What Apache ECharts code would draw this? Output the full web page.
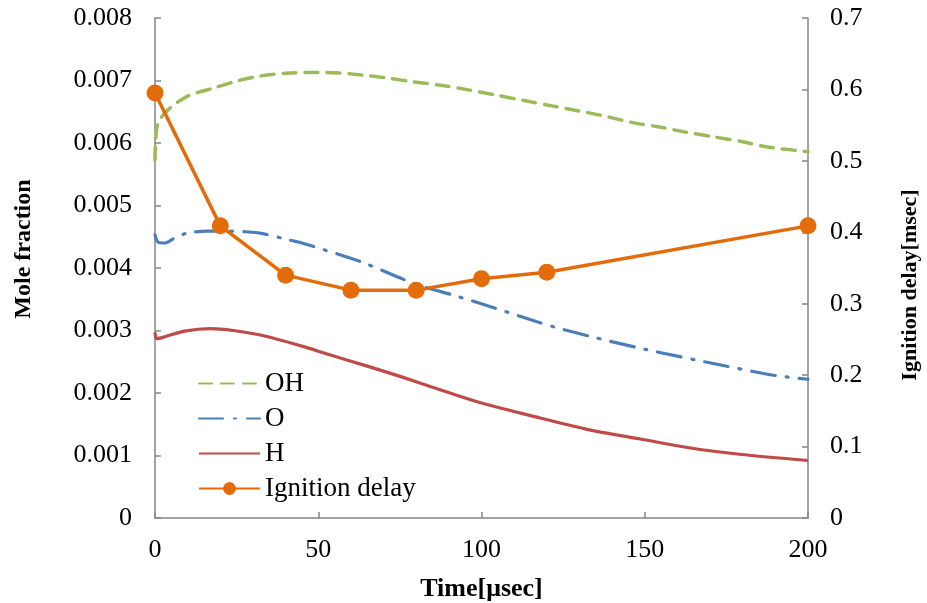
<!DOCTYPE html>
<html>
<head>
<meta charset="utf-8">
<script src="https://cdn.jsdelivr.net/npm/echarts@6/dist/echarts.min.js"></script>
<style>
  html, body { margin: 0; padding: 0; background: #fff; }
  #chart { width: 927px; height: 603px; }
</style>
</head>
<body>
<div id="chart"></div>
<script>
// Species mole fractions over time (x in μsec)
const ohTime = [0, 0.8, 4, 10, 18, 25, 32, 41, 52, 63, 71, 79, 88, 96, 104, 113, 122, 136, 146, 154, 162, 171, 180, 187, 200];
const ohValues = [0.00573, 0.0063, 0.00653, 0.00675, 0.00688, 0.00699, 0.00707, 0.00712, 0.00713, 0.00709, 0.00704, 0.00698, 0.00692, 0.00685, 0.00677, 0.00668, 0.00659, 0.00645, 0.00633, 0.00626, 0.00618, 0.0061, 0.00602, 0.00594, 0.00586];

const oTime = [0, 1, 3, 6, 10, 16, 22, 28, 33, 41, 45, 63, 79, 93, 104, 117, 122, 133, 150, 174, 190, 200];
const oValues = [0.00453, 0.00441, 0.0044, 0.00448, 0.00456, 0.00459, 0.00459, 0.00458, 0.00455, 0.00445, 0.0044, 0.0041, 0.00376, 0.00354, 0.00336, 0.00314, 0.00306, 0.00291, 0.0027, 0.00244, 0.00228, 0.00222];

const hTime = [0, 0.5, 3, 9, 17, 24, 33, 45, 53, 65, 76, 88, 100, 118, 133, 149, 164, 179, 200];
const hValues = [0.00297, 0.00287, 0.0029, 0.00299, 0.00303, 0.003, 0.00292, 0.00275, 0.00262, 0.00243, 0.00225, 0.00204, 0.00184, 0.0016, 0.00141, 0.00126, 0.00112, 0.00102, 0.00092];

// Ignition delay (msec) on the right axis
const delayTime = [0, 20, 40, 60, 80, 100, 120, 200];
const delayValues = [0.595, 0.409, 0.340, 0.319, 0.319, 0.335, 0.344, 0.409];

const seriesNames = ['OH', 'O', 'H', 'Ignition delay'];

const pair = (xs, ys) => xs.map((x, i) => [x, ys[i]]);

const FONT = '"Liberation Serif", "Times New Roman", serif';
const AXIS_GRAY = '#868686';

const chart = echarts.init(document.getElementById('chart'), null, { renderer: 'canvas' });

const axisLine = { show: true, lineStyle: { color: AXIS_GRAY, width: 1.5 } };
const axisTick = { show: true, inside: true, length: 6, lineStyle: { color: AXIS_GRAY, width: 1.5 } };
const titleStyle = (size, padding) => ({ fontFamily: FONT, fontSize: size, fontWeight: 'bold', color: '#000', padding });

chart.setOption({
  animation: false,
  backgroundColor: '#fff',
  grid: { left: 155, right: 119, top: 18, bottom: 85, containLabel: false, outerBoundsMode: 'none' },
  legend: {
    orient: 'vertical',
    left: 198,
    top: 370,
    padding: 0,
    itemWidth: 61,
    itemHeight: 16,
    itemGap: 8,
    data: seriesNames,
    textStyle: { fontFamily: FONT, fontSize: 27, color: '#000', padding: [0, 0, 0, 0] }
  },
  xAxis: {
    type: 'value',
    min: 0, max: 200, interval: 50,
    name: 'Time[μsec]',
    nameLocation: 'middle',
    nameGap: 58,
    nameTextStyle: titleStyle(26),
    axisLine, axisTick,
    splitLine: { show: false },
    axisLabel: { fontFamily: FONT, fontSize: 26, color: '#000', margin: 19 }
  },
  yAxis: [
    {
      type: 'value',
      min: 0, max: 0.008, interval: 0.001,
      name: 'Mole fraction',
      nameLocation: 'middle',
      nameRotate: 90,
      nameGap: 119,
      // shifted slightly upward along the axis
      nameTextStyle: titleStyle(24, [0, 0, 0, 38]),
      axisLine, axisTick,
      splitLine: { show: false },
      axisLabel: {
        fontFamily: FONT, fontSize: 26, color: '#000', margin: 23,
        formatter: v => (v === 0 ? '0' : v.toFixed(3))
      }
    },
    {
      type: 'value',
      position: 'right',
      min: 0, max: 0.7, interval: 0.1,
      name: 'Ignition delay[msec]',
      nameLocation: 'middle',
      nameRotate: 90,
      nameGap: 91,
      // shifted slightly downward along the axis
      nameTextStyle: titleStyle(22, [0, 34, 0, 0]),
      axisLine, axisTick,
      splitLine: { show: false },
      axisLabel: {
        fontFamily: FONT, fontSize: 26, color: '#000', margin: 22,
        formatter: v => (v === 0 ? '0' : v.toFixed(1))
      }
    }
  ],
  series: [
    {
      name: 'OH', type: 'line', yAxisIndex: 0,
      data: pair(ohTime, ohValues),
      smooth: 0.3, showSymbol: false, symbol: 'none',
      color: '#9BBB59',
      itemStyle: { opacity: 0 },
      lineStyle: { color: '#9BBB59', width: 3.5, type: [13, 9], cap: 'round' },
      z: 2
    },
    {
      name: 'O', type: 'line', yAxisIndex: 0,
      data: pair(oTime, oValues),
      smooth: 0.3, showSymbol: false, symbol: 'none',
      color: '#4A7EBB',
      itemStyle: { opacity: 0 },
      lineStyle: { color: '#4A7EBB', width: 3.2, type: [24, 11, 2, 11], cap: 'round' },
      z: 2
    },
    {
      name: 'H', type: 'line', yAxisIndex: 0,
      data: pair(hTime, hValues),
      smooth: 0.3, showSymbol: false, symbol: 'none',
      color: '#BE4B48',
      itemStyle: { opacity: 0 },
      lineStyle: { color: '#BE4B48', width: 3.2 },
      z: 2
    },
    {
      name: 'Ignition delay', type: 'line', yAxisIndex: 1,
      data: pair(delayTime, delayValues),
      symbol: 'circle', symbolSize: 17, showSymbol: true,
      color: '#E36C09',
      itemStyle: { color: '#E36C09' },
      lineStyle: { color: '#E36C09', width: 3.5 },
      z: 3
    }
  ]
});
</script>
</body>
</html>
